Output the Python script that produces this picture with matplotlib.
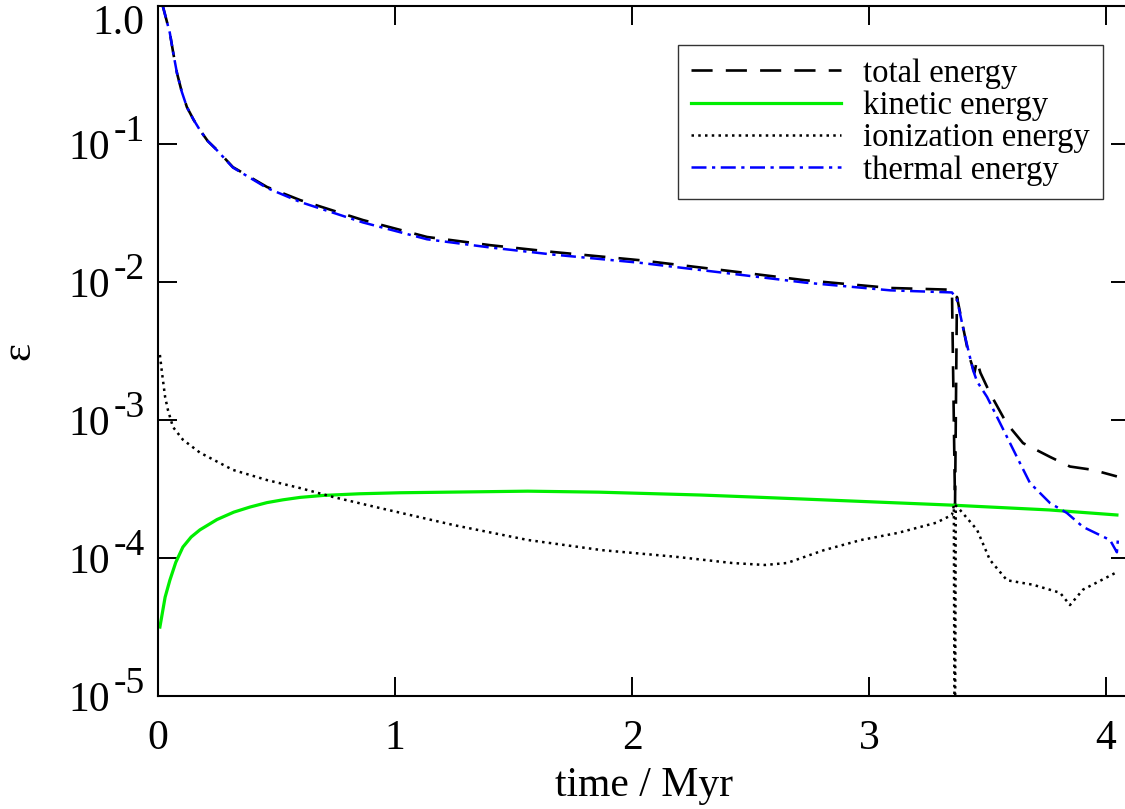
import numpy as np
import matplotlib.pyplot as plt
from matplotlib.ticker import NullLocator

plt.rcParams['font.family'] = ['Liberation Serif', 'DejaVu Serif']

# TIME IN MYR AND ENERGY FRACTIONS
t_total = [0.017, 0.035, 0.05, 0.065, 0.08, 0.1, 0.122, 0.15, 0.177, 0.21, 0.249, 0.316, 0.46, 0.6,
           0.865, 1.135, 1.40, 1.667, 2.03, 2.38, 2.73, 3.09, 3.34, 3.35, 3.363, 3.371, 3.42,
           3.445, 3.455, 3.47, 3.51, 3.58, 3.65, 3.764, 3.848, 3.945, 4.046]
e_total = [1.05, 0.80, 0.637, 0.45, 0.327, 0.24, 0.185, 0.15, 0.126, 0.105, 0.0905, 0.068, 0.0488, 0.0392,
           0.0281, 0.0212, 0.0185, 0.0165, 0.0144, 0.0122, 0.0103, 0.00905, 0.0088, 0.0088, 2.42e-4, 0.0078, 0.0030,
           0.0022, 0.0027, 0.0022, 0.00157, 9.5e-4, 6.8e-4, 5.4e-4, 4.6e-4, 4.35e-4, 3.9e-4]

t_kin = [0.008, 0.03, 0.05, 0.075, 0.105, 0.14, 0.177, 0.249, 0.32, 0.388, 0.46, 0.527, 0.6, 0.696,
         0.85, 1.02, 1.56, 1.86, 2.29, 2.5, 2.71, 3.34, 3.76, 4.046]
e_kin = [3.16e-5, 5.2e-5, 6.9e-5, 9.3e-5, 1.2e-4, 1.42e-4, 1.6e-4, 1.9e-4, 2.15e-4, 2.34e-4, 2.52e-4, 2.64e-4, 2.75e-4, 2.84e-4,
         2.92e-4, 2.97e-4, 3.05e-4, 3.0e-4, 2.86e-4, 2.77e-4, 2.68e-4, 2.42e-4, 2.23e-4, 2.05e-4]

t_ion = [0.008, 0.017, 0.03, 0.042, 0.063, 0.105, 0.177, 0.316, 0.46, 0.6, 0.738, 0.937,
         1.249, 1.561, 1.873, 2.186, 2.422, 2.561, 2.654, 2.81, 2.966, 3.122, 3.283, 3.35,
         3.358, 3.362, 3.366, 3.384, 3.456, 3.51, 3.582, 3.692, 3.806, 3.848, 3.903, 4.046]
e_ion = [2.96e-3, 2.19e-3, 1.47e-3, 1.18e-3, 8.9e-4, 7.2e-4, 5.8e-4, 4.35e-4, 3.67e-4, 3.21e-4, 2.77e-4, 2.3e-4,
         1.73e-4, 1.35e-4, 1.14e-4, 1.02e-4, 9.2e-5, 8.9e-5, 9.2e-5, 1.14e-4, 1.35e-4, 1.52e-4, 1.8e-4, 2.05e-4,
         2.4e-4, 1e-6, 2.4e-4, 2.23e-4, 1.6e-4, 9.7e-5, 6.9e-5, 6.4e-5, 5.6e-5, 4.56e-5, 5.9e-5, 7.9e-5]

t_th = [0.017, 0.035, 0.05, 0.065, 0.08, 0.1, 0.122, 0.15, 0.177, 0.21, 0.249, 0.316, 0.46, 0.6,
        0.865, 1.135, 1.40, 1.667, 2.03, 2.38, 2.73, 3.09, 3.35, 3.371, 3.40, 3.439, 3.456, 3.498,
        3.553, 3.624, 3.679, 3.764, 3.835, 3.903, 4.017, 4.046, 4.05]
e_th = [1.05, 0.80, 0.637, 0.45, 0.327, 0.24, 0.185, 0.15, 0.126, 0.105, 0.09, 0.0675, 0.048, 0.038,
        0.027, 0.0204, 0.0178, 0.0158, 0.0138, 0.0117, 0.0099, 0.0087, 0.0084, 0.0075, 0.0044, 0.0023, 0.0019, 0.00147,
        9.5e-4, 5.4e-4, 3.5e-4, 2.5e-4, 2.12e-4, 1.68e-4, 1.35e-4, 1.1e-4, 1.35e-4]

labels = ['total energy', 'kinetic energy', 'ionization energy', 'thermal energy']
x_ticks = [0, 1, 2, 3, 4]
y_decades = [5, 4, 3, 2, 1]

fig = plt.figure(figsize=(11.25, 8.09), dpi=100)
ax = fig.add_axes([158 / 1125, 1 - 696 / 809, 971.7 / 1125, 690 / 809])

ax.plot(t_total, e_total, color='black', lw=1.9, dashes=(8, 5), label=labels[0])
ax.plot(t_kin, e_kin, color='#00ee00', lw=2.3, label=labels[1])
ax.plot(t_ion, e_ion, color='black', lw=1.8, dashes=(1, 1.7), label=labels[2])
ax.plot(t_th, e_th, color='#0000ff', lw=1.8, dashes=(6, 2.2, 1.3, 2.2), label=labels[3])

ax.set_yscale('log')
ax.set_xlim(0, 4.1)
ax.set_ylim(1e-5, 1.0)
ax.yaxis.set_minor_locator(NullLocator())
ax.xaxis.set_minor_locator(NullLocator())

for sp in ax.spines.values():
    sp.set_linewidth(1.5)

ax.set_xticks(x_ticks)
ax.set_xticklabels([str(v) for v in x_ticks])
ax.set_yticks([10.0 ** -k for k in y_decades] + [1.0])
ax.set_yticklabels(['10'] * len(y_decades) + [''])
ax.tick_params(axis='both', direction='in', top=True, right=True, length=13.7, width=1.4,
               labelsize=30)
ax.tick_params(axis='x', pad=17)
ax.tick_params(axis='y', pad=34.5)

# SUPERSCRIPT EXPONENTS NEXT TO THE "10" LABELS
for k in y_decades:
    ax.annotate('-%d' % k, xy=(0, 10.0 ** -k), xycoords=ax.get_yaxis_transform(),
                xytext=(-9.5, 2), textcoords='offset points', ha='right', va='baseline',
                fontsize=27, annotation_clip=False)
ax.annotate('1.0', xy=(0, 1.0), xycoords=ax.get_yaxis_transform(),
            xytext=(-9.5, -12.5), textcoords='offset points', ha='right', va='center',
            fontsize=30, annotation_clip=False)

ax.set_xlabel('time / Myr', fontsize=30, labelpad=6)
ax.set_ylabel('ε', fontsize=31)
ax.yaxis.set_label_coords(-0.123, 0.5)

leg = ax.legend(loc='upper right', bbox_to_anchor=(0.9725, 0.9435), borderaxespad=0,
                fontsize=23.5, handlelength=4.6, handletextpad=0.67, labelspacing=0.06,
                borderpad=0.4, fancybox=False, framealpha=1, edgecolor='#333333')
leg.get_frame().set_linewidth(1.0)

fig.savefig('out.png', dpi=100)
